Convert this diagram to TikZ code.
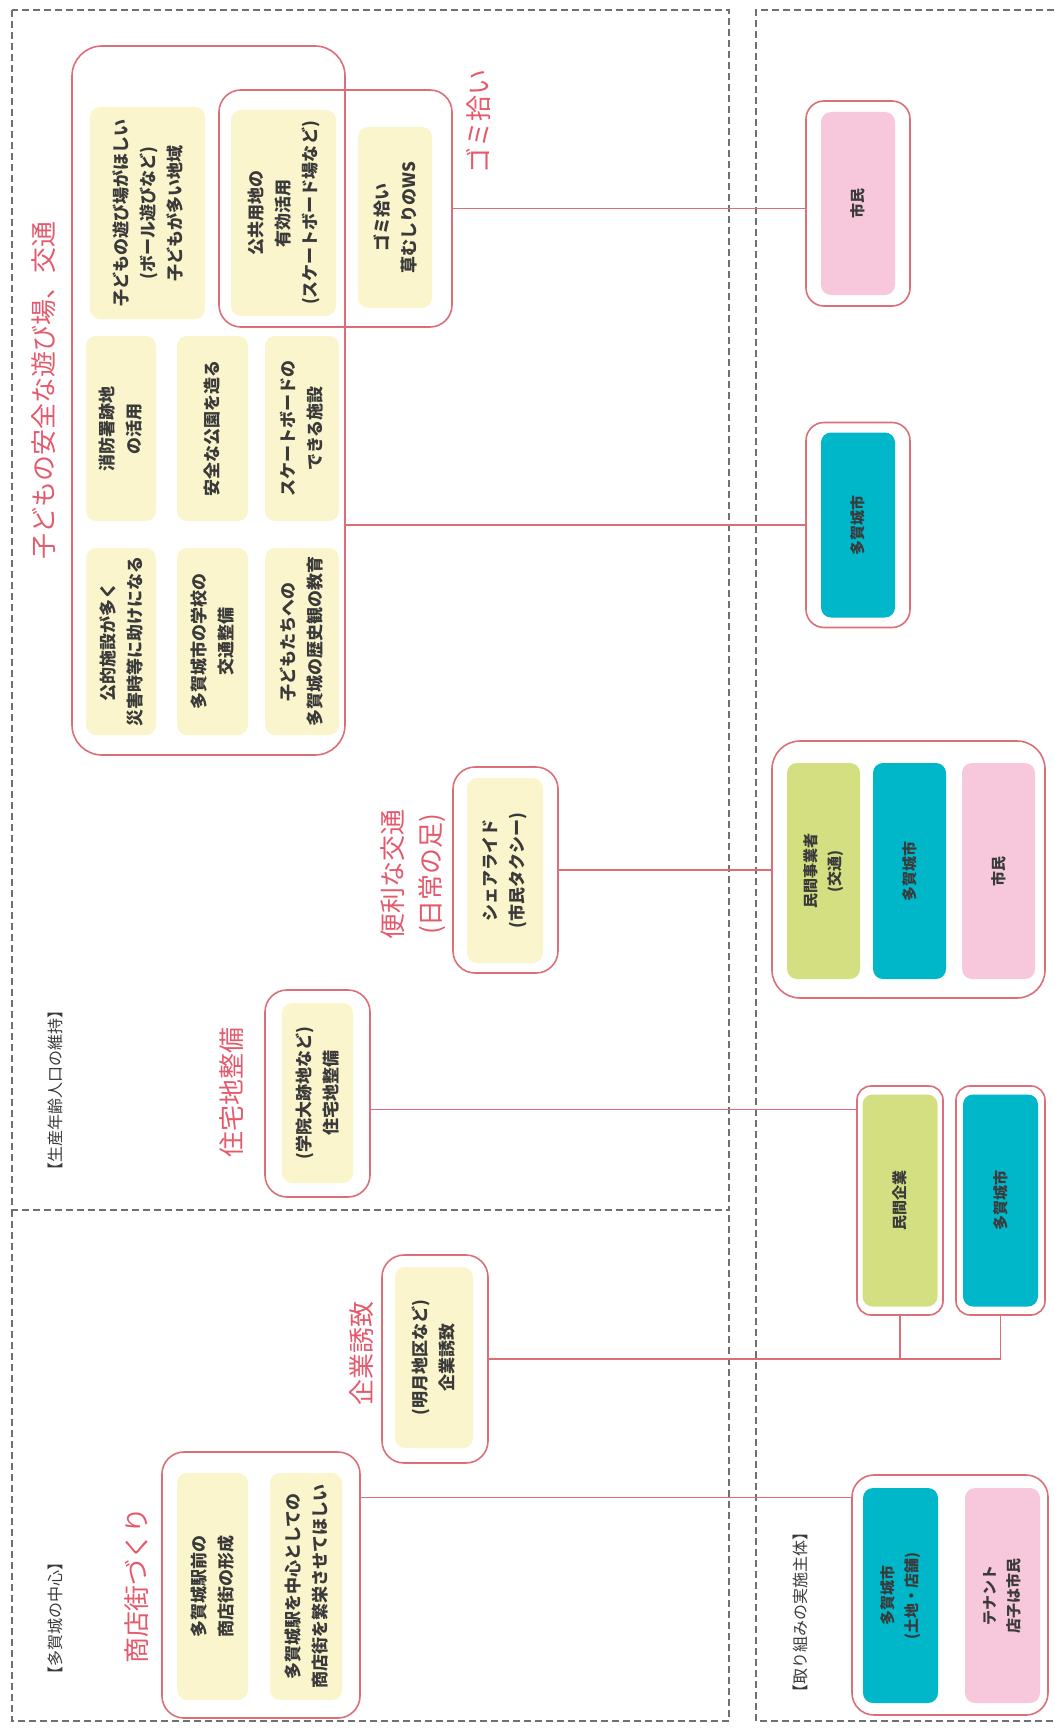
\documentclass[tikz,border=0pt]{standalone}
\usepackage{fontspec}
\setmainfont{Noto Sans CJK JP}

\definecolor{boxyel}{HTML}{FAF5CC}
\definecolor{boxpink}{HTML}{F7C8DB}
\definecolor{boxcyan}{HTML}{00B6C9}
\definecolor{boxgreen}{HTML}{D3DF80}
\definecolor{grpred}{HTML}{DC6E78}
\definecolor{ttlred}{HTML}{E45A6C}
\definecolor{zonegray}{HTML}{707070}
\definecolor{ink}{HTML}{3A3A3A}

\begin{document}
\begin{tikzpicture}[x=1pt, y=-1pt,
        zone/.style={draw=zonegray, line width=1.6pt, dash pattern=on 7pt off 4pt},
        grp/.style={rectangle, draw=grpred, line width=1.6pt, rounded corners=22pt, inner sep=0pt},
        boxtxt/.style={rectangle, rotate=90, rounded corners=10pt, inner sep=0pt, align=center, text=ink, font=\bfseries\fontsize{17}{27}\selectfont},
        ybox/.style={boxtxt, fill=boxyel},
        pbox/.style={boxtxt, fill=boxpink, font=\bfseries\fontsize{15}{24}\selectfont},
        cbox/.style={boxtxt, fill=boxcyan, font=\bfseries\fontsize{15}{24}\selectfont},
        gbox/.style={boxtxt, fill=boxgreen, font=\bfseries\fontsize{15}{24}\selectfont},
        ttl/.style={rotate=90, inner sep=0pt, align=center, text=ttlred, font=\fontsize{26}{38}\selectfont},
        lbl/.style={rotate=90, inner sep=0pt, text=ink, font=\fontsize{16}{20}\selectfont},
        link/.style={draw=grpred, line width=1.4pt}]

        \useasboundingbox (0,0) rectangle (1054,1728);

        % dashed zones

        \draw[zone] (12,10) rectangle (729,1210);

        \draw[zone] (12,1210) -- (12,1721) -- (729,1721) -- (729,1210);

        \draw[zone] (1054,10) -- (756,10) -- (756,1721) -- (1054,1721);

        \node (zone1lbl) at (55, 1090) [lbl] {【生産年齢人口の維持】};

        \node (zone2lbl) at (55, 1618) [lbl] {【多賀城の中心】};

        \node (zone3lbl) at (800, 1612) [lbl] {【取り組みの実施主体】};

        % Define groups (red outlines)

        \node (kids)  at ( 208.5,  400.5 ) [grp, rounded corners=30pt, minimum width=273pt, minimum height=709pt] {};

        \node (gomi)  at ( 335.5,  208.5 ) [grp, minimum width=233pt, minimum height=237pt] {};

        \node (ride)  at ( 505.5,  870 ) [grp, minimum width=105pt, minimum height=206pt] {};

        \node (house) at ( 317.5, 1093.5 ) [grp, minimum width=105pt, minimum height=207pt] {};

        \node (firm)  at ( 435, 1359 ) [grp, minimum width=106pt, minimum height=208pt] {};

        \node (shop)  at ( 261, 1585 ) [grp, minimum width=198pt, minimum height=266pt] {};

        % titles

        \node (kidsttl)  at ( 44, 390 ) [ttl] {子どもの安全な遊び場、交通};

        \node (gomittl)  at ( 478, 122 ) [ttl] {ゴミ拾い};

        \node (ridettl)  at ( 413, 874 ) [ttl] {便利な交通\\(日常の足)};

        \node (housettl) at ( 232, 1092 ) [ttl] {住宅地整備};

        \node (firmttl)  at ( 362, 1353 ) [ttl] {企業誘致};

        \node (shopttl)  at ( 137, 1585 ) [ttl] {商店街づくり};

        % Define nodes (yellow boxes)

        \node (kids1) at ( 147.5, 213 ) [ybox, minimum width=212pt, minimum height=115pt] {子どもの遊び場がほしい\\(ボール遊びなど)\\子どもが多い地域};

        \node (gomi1) at ( 283.5, 213 ) [ybox, minimum width=206pt, minimum height=105pt] {公共用地の\\有効活用\\(スケートボード場など)};

        \node (gomi2) at ( 395, 217.5 ) [ybox, minimum width=181pt, minimum height=74pt] {ゴミ拾い\\草むしりのWS};

        \node (kids2) at ( 121, 428.5 ) [ybox, minimum width=185pt, minimum height=70pt] {消防署跡地\\の活用};

        \node (kids3) at ( 212.5, 428.5 ) [ybox, minimum width=185pt, minimum height=71pt] {安全な公園を造る};

        \node (kids4) at ( 302, 428.5 ) [ybox, minimum width=185pt, minimum height=74pt] {スケートボードの\\できる施設};

        \node (kids5) at ( 121, 641.5 ) [ybox, minimum width=187pt, minimum height=70pt] {公的施設が多く\\災害時等に助けになる};

        \node (kids6) at ( 212.5, 641.5 ) [ybox, minimum width=187pt, minimum height=71pt] {多賀城市の学校の\\交通整備};

        \node (kids7) at ( 302, 641.5 ) [ybox, minimum width=187pt, minimum height=74pt] {子どもたちへの\\多賀城の歴史観の教育};

        \node (ride1) at ( 505, 870.5 ) [ybox, minimum width=185pt, minimum height=76pt] {シェアライド\\(市民タクシー)};

        \node (house1) at ( 317.5, 1093 ) [ybox, minimum width=180pt, minimum height=71pt] {(学院大跡地など)\\住宅地整備};

        \node (firm1) at ( 434, 1357.5 ) [ybox, minimum width=181pt, minimum height=78pt] {(明月地区など)\\企業誘致};

        \node (shop1) at ( 212.5, 1586.5 ) [ybox, minimum width=227pt, minimum height=71pt] {多賀城駅前の\\商店街の形成};

        \node (shop2) at ( 306, 1586.5 ) [ybox, minimum width=227pt, minimum height=72pt] {多賀城駅を中心としての\\商店街を繁栄させてほしい};

        % who does it (right side)

        \node (wgomi)  at ( 858, 203.5 ) [grp, rounded corners=18pt, minimum width=104pt, minimum height=205pt] {};

        \node (wkids)  at ( 858, 525 ) [grp, rounded corners=18pt, minimum width=104pt, minimum height=205pt] {};

        \node (wride)  at ( 908.5, 869.5 ) [grp, rounded corners=28pt, minimum width=273pt, minimum height=257pt] {};

        \node (wfirm1) at ( 900, 1200.5 ) [grp, rounded corners=14pt, minimum width=86pt, minimum height=229pt] {};

        \node (wfirm2) at ( 1000.5, 1200.5 ) [grp, rounded corners=14pt, minimum width=89pt, minimum height=229pt] {};

        \node (wshop)  at ( 950, 1595 ) [grp, minimum width=196pt, minimum height=240pt] {};

        \node (wgomi1) at ( 858, 203.5 ) [pbox, minimum width=183pt, minimum height=74pt] {市民};

        \node (wkids1) at ( 858, 525 ) [cbox, minimum width=185pt, minimum height=74pt] {多賀城市};

        \node (wride1) at ( 823.5, 871 ) [gbox, minimum width=216pt, minimum height=73pt] {民間事業者\\(交通)};

        \node (wride2) at ( 909.5, 871 ) [cbox, minimum width=216pt, minimum height=73pt] {多賀城市};

        \node (wride3) at ( 998.5, 871 ) [pbox, minimum width=216pt, minimum height=73pt] {市民};

        \node (wfirm1a) at ( 900, 1200.5 ) [gbox, minimum width=212pt, minimum height=75pt] {民間企業};

        \node (wfirm2a) at ( 1000.5, 1200.5 ) [cbox, minimum width=212pt, minimum height=75pt] {多賀城市};

        \node (wshop1) at ( 900.5, 1595.5 ) [cbox, minimum width=215pt, minimum height=75pt] {多賀城市\\(土地・店舗)};

        \node (wshop2) at ( 1002.5, 1595.5 ) [pbox, minimum width=215pt, minimum height=75pt] {テナント\\店子は市民};

        % Draw lines between groups

        \draw[link] (gomi.east) -- (gomi.east -| wgomi.west);

        \coordinate (kidsout) at (kids.east |- wkids.west);

        \draw[link] (kidsout) -- (wkids.west);

        \draw[link] (ride.east) -- (ride.east -| wride.west);

        \coordinate (houseout) at ([yshift=-16pt]house.east);

        \draw[link] (houseout) -- (houseout -| wfirm1.west);

        \draw[link] (firm.east) -| (wfirm2.south);

        \draw[link] (firm.east -| wfirm1.south) -- (wfirm1.south);

        \coordinate (shopout) at ([yshift=-46pt]shop.north east);

        \draw[link] (shopout) -- (shopout -| wshop.west);

    \end{tikzpicture}
\end{document}
